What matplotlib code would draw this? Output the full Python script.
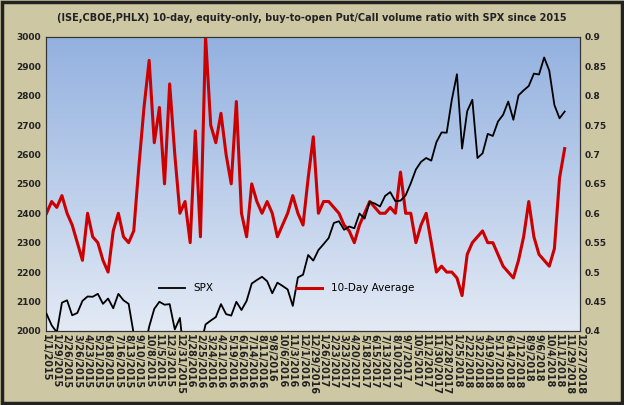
import numpy as np
import pandas as pd
import matplotlib
matplotlib.use("Agg")
import matplotlib.pyplot as plt
import matplotlib.dates as mdates
from matplotlib.patches import Rectangle

# biweekly samples starting 2015-01-02
dates = pd.date_range("2015-01-02", periods=102, freq="14D")

spx = [2058, 2019, 1995, 2096, 2104, 2053, 2061, 2102, 2117, 2116,
       2126, 2092, 2110, 2077, 2126, 2104, 2092, 1989, 1961, 1931,
       2014, 2075, 2099, 2089, 2091, 2005, 2044, 1880, 1940, 1864,
       1948, 2022, 2035, 2047, 2091, 2057, 2052, 2099, 2071, 2102,
       2161, 2173, 2184, 2169, 2128, 2164, 2153, 2141, 2085, 2182,
       2191, 2258, 2239, 2275, 2295, 2316, 2367, 2373, 2344, 2355,
       2349, 2399, 2382, 2439, 2433, 2423, 2459, 2472, 2441, 2443,
       2461, 2502, 2549, 2575, 2588, 2579, 2642, 2675, 2674, 2786,
       2873, 2620, 2747, 2786, 2588, 2604, 2670, 2663, 2712, 2735,
       2780, 2718, 2801, 2818, 2833, 2875, 2872, 2930, 2885, 2768,
       2723, 2746]

pc_ratio = [0.60, 0.62, 0.61, 0.63, 0.60, 0.58, 0.55, 0.52, 0.60, 0.56,
            0.55, 0.52, 0.50, 0.57, 0.60, 0.56, 0.55, 0.57, 0.68, 0.78,
            0.86, 0.72, 0.78, 0.65, 0.82, 0.70, 0.60, 0.62, 0.55, 0.74,
            0.56, 0.90, 0.75, 0.72, 0.77, 0.70, 0.65, 0.79, 0.60, 0.56,
            0.65, 0.62, 0.60, 0.62, 0.60, 0.56, 0.58, 0.60, 0.63, 0.60,
            0.58, 0.66, 0.73, 0.60, 0.62, 0.62, 0.61, 0.60, 0.58, 0.57,
            0.55, 0.58, 0.60, 0.62, 0.61, 0.60, 0.60, 0.61, 0.60, 0.67,
            0.60, 0.60, 0.55, 0.58, 0.60, 0.55, 0.50, 0.51, 0.50, 0.50,
            0.49, 0.46, 0.53, 0.55, 0.56, 0.57, 0.55, 0.55, 0.53, 0.51,
            0.50, 0.49, 0.52, 0.56, 0.62, 0.56, 0.53, 0.52, 0.51, 0.54,
            0.66, 0.71]

tick_dates = pd.date_range("2015-01-01", "2018-12-27", freq="28D")
tick_labels = [f"{d.month}/{d.day}/{d.year}" for d in tick_dates]

bg = "#cdc7a4"
fig = plt.figure(figsize=(6.24, 4.05), dpi=100, facecolor=bg)
fig.patches.append(Rectangle((0.003, 0.004), 0.994, 0.992, transform=fig.transFigure,
                             fill=False, ec="#222222", lw=2.5))

ax = fig.add_axes([0.074, 0.183, 0.855, 0.726])
ax2 = ax.twinx()
x0 = mdates.date2num(pd.Timestamp("2015-01-01"))
x1 = mdates.date2num(pd.Timestamp("2018-12-27"))

# gradient background on the lower (right-axis) layer
grad = np.linspace(0, 1, 256).reshape(-1, 1)
cmap = matplotlib.colors.LinearSegmentedColormap.from_list("g", ["#e3eaf5", "#93b1e0"])
ax2.imshow(grad, aspect="auto", cmap=cmap, origin="lower", extent=[x0, x1, 0.4, 0.9], zorder=0)
l2, = ax2.plot(dates, pc_ratio, color="#cc0000", lw=2.2, label="10-Day Average", zorder=2)
ax2.set_ylim(0.4, 0.9)
ax2.set_yticks(np.arange(0.4, 0.91, 0.05))
ax2.set_yticklabels(["0.4", "0.45", "0.5", "0.55", "0.6", "0.65", "0.7", "0.75", "0.8", "0.85", "0.9"],
                    fontweight="bold")
ax2.tick_params(axis="y", labelsize=6.5, length=0, colors="#222222")

l1, = ax.plot(dates, spx, color="black", lw=1.3, label="SPX", zorder=3)
ax.set_zorder(ax2.get_zorder() + 1)
ax.patch.set_visible(False)
ax.set_xlim(x0, x1)
ax.set_ylim(2000, 3000)
ax.set_yticks(range(2000, 3001, 100))
ax.set_yticklabels([str(v) for v in range(2000, 3001, 100)], fontweight="bold")
ax.tick_params(axis="y", labelsize=6.5, length=0, colors="#222222")
ax.set_xticks(tick_dates)
ax.set_xticklabels(tick_labels, rotation=-90, fontsize=7, fontweight="bold")
ax.tick_params(axis="x", length=0, pad=2, colors="#222222")
for a in (ax, ax2):
    for s in a.spines.values():
        s.set_color("#333333")

ax.legend([l1, l2], ["SPX", "10-Day Average"], ncol=2, frameon=False, fontsize=7.5,
          loc="center", bbox_to_anchor=(0.45, 0.145), columnspacing=8, handlelength=2.5)

fig.text(0.5, 0.955, "(ISE,CBOE,PHLX) 10-day, equity-only, buy-to-open Put/Call volume ratio with SPX since 2015",
         ha="center", va="center", fontsize=7, fontweight="bold", color="#222222")

fig.savefig("out.png", dpi=100, facecolor=bg)
